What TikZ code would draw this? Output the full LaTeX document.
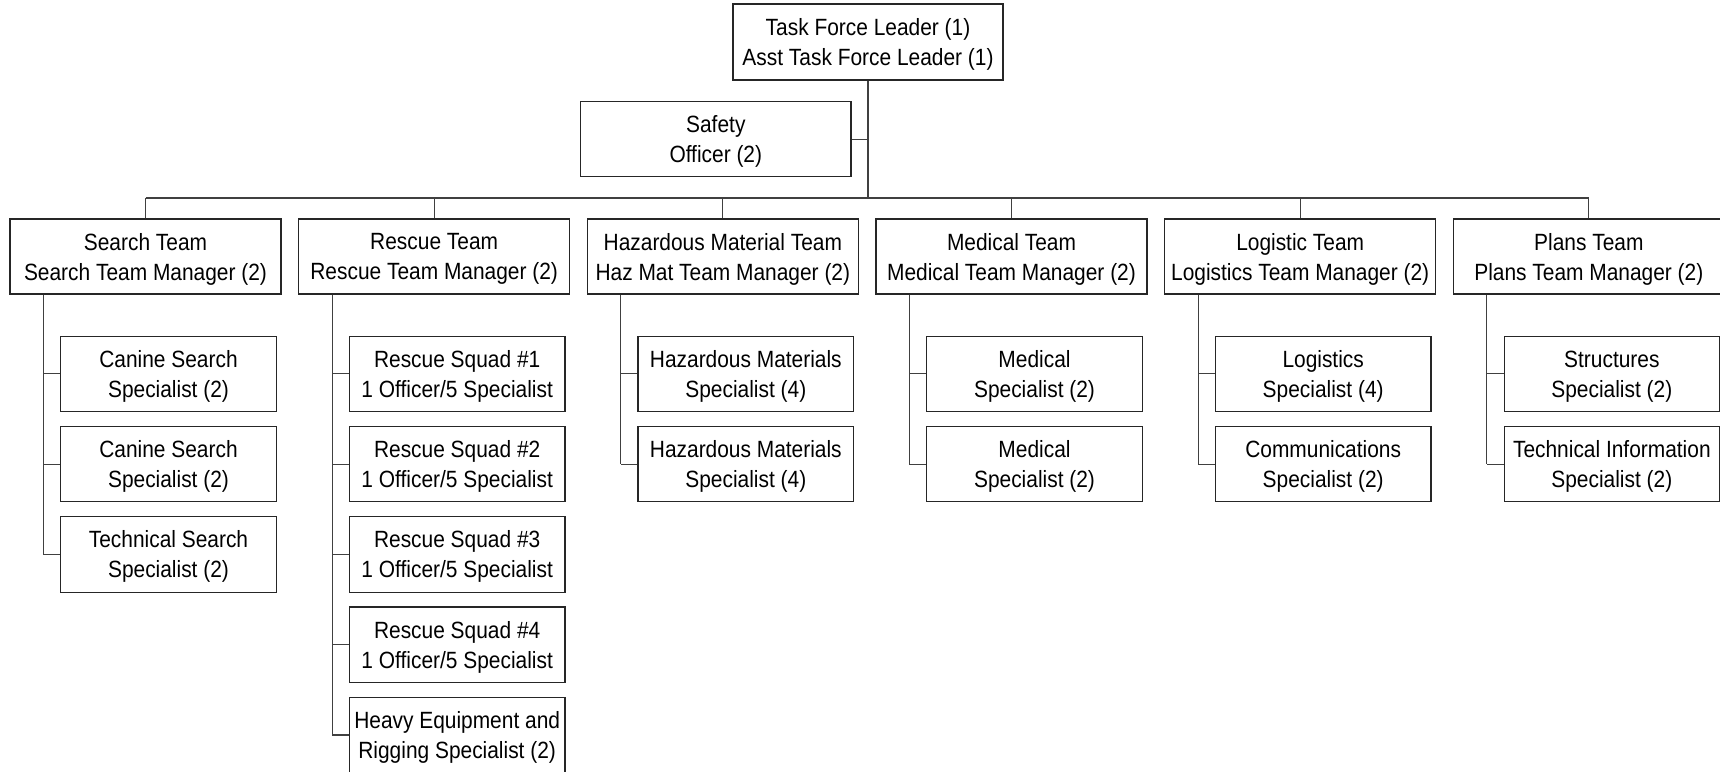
\documentclass[tikz,border=0pt]{standalone}
\usepackage{fontspec}
\setmainfont{Liberation Sans}[FakeStretch=0.89]
\begin{document}
\begin{tikzpicture}[x=1pt,y=-1pt,
  box/.style={draw=black!85, line width=1.1pt, rectangle, inner sep=0pt, align=center,
    text depth=0pt, font=\fontsize{23.5}{30}\selectfont},
  team/.style={box, minimum width=271pt, minimum height=75pt},
  sub/.style={box, minimum width=215.6pt, minimum height=75.5pt},
  link/.style={draw=black!75, line width=1.1pt}]
\useasboundingbox (0,0) rectangle (1720,771);

% top
\node[team, minimum width=270pt, minimum height=76pt] (tfl) at (868,42) {Task Force Leader (1)\\Asst Task Force Leader (1)};
\node[team, minimum width=270.3pt] (safety) at (715.8,139.2) {Safety\\Officer (2)};
\coordinate (bus) at (868,198);

% teams
\node[team] (t1) at (145.5,256.5) {Search Team\\Search Team Manager (2)};
\node[team] (t2) at (434.17,256.5) {Rescue Team\\Rescue Team Manager (2)};
\node[team] (t3) at (722.83,256.5) {Hazardous Material Team\\Haz Mat Team Manager (2)};
\node[team] (t4) at (1011.5,256.5) {Medical Team\\Medical Team Manager (2)};
\node[team] (t5) at (1300.17,256.5) {Logistic Team\\Logistics Team Manager (2)};
\node[team] (t6) at (1588.83,256.5) {Plans Team\\Plans Team Manager (2)};

% children
\node[sub] (c11) at (168.5,373.8) {Canine Search\\Specialist (2)};
\node[sub] (c12) at (168.5,464.1) {Canine Search\\Specialist (2)};
\node[sub] (c13) at (168.5,554.4) {Technical Search\\Specialist (2)};

\node[sub] (c21) at (457.17,373.8) {Rescue Squad \#1\\1 Officer/5 Specialist};
\node[sub] (c22) at (457.17,464.1) {Rescue Squad \#2\\1 Officer/5 Specialist};
\node[sub] (c23) at (457.17,554.4) {Rescue Squad \#3\\1 Officer/5 Specialist};
\node[sub] (c24) at (457.17,644.7) {Rescue Squad \#4\\1 Officer/5 Specialist};
\node[sub] (c25) at (457.17,735.0) {Heavy Equipment and\\Rigging Specialist (2)};

\node[sub] (c31) at (745.83,373.8) {Hazardous Materials\\Specialist (4)};
\node[sub] (c32) at (745.83,464.1) {Hazardous Materials\\Specialist (4)};

\node[sub] (c41) at (1034.5,373.8) {Medical\\Specialist (2)};
\node[sub] (c42) at (1034.5,464.1) {Medical\\Specialist (2)};

\node[sub] (c51) at (1323.17,373.8) {Logistics\\Specialist (4)};
\node[sub] (c52) at (1323.17,464.1) {Communications\\Specialist (2)};

\node[sub] (c61) at (1611.83,373.8) {Structures\\Specialist (2)};
\node[sub] (c62) at (1611.83,464.1) {Technical Information\\Specialist (2)};

% top connectors
\draw[link] (tfl.south) -- (tfl.south |- bus);
\draw[link] (safety.east) -- (safety.east -| tfl.south);
\draw[link] (t1.north |- bus) -- (t6.north |- bus);
\foreach \t in {t1,t2,t3,t4,t5,t6} {
  \draw[link] (\t.north) -- (\t.north |- bus);
  \coordinate (k\t) at ([xshift=34pt]\t.south west);
}

% trunks
\draw[link] (kt1) -- (kt1 |- c13.west);
\foreach \c in {c11,c12,c13} \draw[link] (kt1 |- \c.west) -- (\c.west);
\draw[link] (kt2) -- (kt2 |- c25.west);
\foreach \c in {c21,c22,c23,c24,c25} \draw[link] (kt2 |- \c.west) -- (\c.west);
\draw[link] (kt3) -- (kt3 |- c32.west);
\foreach \c in {c31,c32} \draw[link] (kt3 |- \c.west) -- (\c.west);
\draw[link] (kt4) -- (kt4 |- c42.west);
\foreach \c in {c41,c42} \draw[link] (kt4 |- \c.west) -- (\c.west);
\draw[link] (kt5) -- (kt5 |- c52.west);
\foreach \c in {c51,c52} \draw[link] (kt5 |- \c.west) -- (\c.west);
\draw[link] (kt6) -- (kt6 |- c62.west);
\foreach \c in {c61,c62} \draw[link] (kt6 |- \c.west) -- (\c.west);
\end{tikzpicture}
\end{document}
